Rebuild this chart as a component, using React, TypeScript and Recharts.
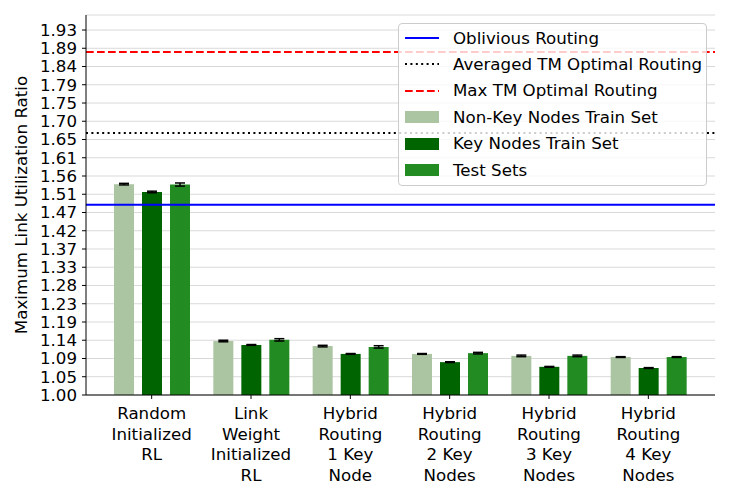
import React from 'react';
import {
  BarChart,
  Bar,
  XAxis,
  YAxis,
  CartesianGrid,
  ReferenceLine,
  ErrorBar,
} from 'recharts';

const categories = [
  'Random\nInitialized\nRL',
  'Link\nWeight\nInitialized\nRL',
  'Hybrid\nRouting\n1 Key\nNode',
  'Hybrid\nRouting\n2 Key\nNodes',
  'Hybrid\nRouting\n3 Key\nNodes',
  'Hybrid\nRouting\n4 Key\nNodes',
];

const nonKeyTrain = [1.539, 1.138, 1.125, 1.105, 1.1, 1.097];
const nonKeyTrainErr = [0.002, 0.002, 0.002, 0.001, 0.002, 0.001];
const keyTrain = [1.519, 1.128, 1.105, 1.084, 1.072, 1.069];
const keyTrainErr = [0.002, 0.001, 0.001, 0.001, 0.001, 0.001];
const testSets = [1.538, 1.141, 1.123, 1.107, 1.1, 1.097];
const testSetsErr = [0.004, 0.003, 0.003, 0.002, 0.002, 0.001];

const obliviousRouting = 1.4865;
const avgTmOptimal = 1.67;
const maxTmOptimal = 1.877;

const yTicks = [
  1.0, 1.0467, 1.0933, 1.14, 1.1866, 1.2333, 1.28, 1.3266, 1.3732, 1.4199,
  1.4665, 1.5132, 1.5598, 1.6065, 1.6531, 1.6998, 1.7464, 1.7931, 1.8397,
  1.8864, 1.933,
];
const yMax = 1.9714;

const COLORS = {
  nonKey: '#abc4a1',
  key: '#006400',
  test: '#228b22',
};

const FONT = '"DejaVu Sans", sans-serif';
const FS = 16.67;

const data = categories.map((name, i) => ({
  name,
  nonKey: nonKeyTrain[i],
  nonKeyErr: nonKeyTrainErr[i],
  key: keyTrain[i],
  keyErr: keyTrainErr[i],
  test: testSets[i],
  testErr: testSetsErr[i],
}));

function CategoryTick({ x, y, payload }: any) {
  const lines = String(payload.value).split('\n');
  return (
    <g transform={`translate(${x},${y})`}>
      <text textAnchor="middle" fontSize={FS} fill="#000" fontFamily={FONT}>
        {lines.map((l, i) => (
          <tspan key={i} x={0} dy={i === 0 ? 18 : 20.5}>
            {l}
          </tspan>
        ))}
      </text>
    </g>
  );
}

function YLabel() {
  return (
    <text
      x={21}
      y={205}
      transform="rotate(-90, 21, 205)"
      textAnchor="middle"
      dominantBaseline="central"
      fontSize={FS}
      fontFamily={FONT}
      fill="#000"
    >
      Maximum Link Utilization Ratio
    </text>
  );
}

const legendItems = [
  { label: 'Oblivious Routing', kind: 'line', color: '#0000ff', dash: '' },
  { label: 'Averaged TM Optimal Routing', kind: 'line', color: '#000', dash: '2 3.4' },
  { label: 'Max TM Optimal Routing', kind: 'line', color: '#ff0000', dash: '7.7 3.3' },
  { label: 'Non-Key Nodes Train Set', kind: 'patch', color: COLORS.nonKey, dash: '' },
  { label: 'Key Nodes Train Set', kind: 'patch', color: COLORS.key, dash: '' },
  { label: 'Test Sets', kind: 'patch', color: COLORS.test, dash: '' },
];

function ChartLegend() {
  return (
    <div
      style={{
        position: 'absolute',
        left: 398,
        top: 23,
        width: 307,
        height: 161,
        border: '1px solid #cccccc',
        borderRadius: 4,
        background: 'rgba(255,255,255,0.8)',
        fontFamily: FONT,
        fontSize: FS,
        color: '#000',
        boxSizing: 'content-box',
      }}
    >
      {legendItems.map((it, i) => (
        <div
          key={it.label}
          style={{
            position: 'absolute',
            left: 0,
            top: 2 + i * 26.4,
            height: 24,
            display: 'flex',
            alignItems: 'center',
            whiteSpace: 'nowrap',
          }}
        >
          <svg width={54} height={24} style={{ display: 'block' }}>
            {it.kind === 'line' ? (
              <line
                x1={6}
                x2={40}
                y1={12}
                y2={12}
                stroke={it.color}
                strokeWidth={2}
                strokeDasharray={it.dash || undefined}
              />
            ) : (
              <rect x={6} y={6} width={34} height={12} fill={it.color} />
            )}
          </svg>
          <span>{it.label}</span>
        </div>
      ))}
    </div>
  );
}

export default function App() {
  return (
    <div
      style={{
        position: 'absolute',
        left: 0,
        top: 0,
        width: 730,
        height: 500,
        background: '#fff',
        fontFamily: FONT,
      }}
    >
      <BarChart
        width={730}
        height={500}
        data={data}
        margin={{ top: 15, right: 15, bottom: 0, left: 0 }}
        barSize={20}
        barGap={8}
      >
        <CartesianGrid
          vertical={false}
          stroke="#d9d9d9"
          strokeWidth={1}
        />
        <XAxis
          dataKey="name"
          interval={0}
          height={105}
          padding={{ left: 16, right: 17 }}
          tick={<CategoryTick />}
          tickSize={4}
          tickMargin={2}
          axisLine={{ stroke: '#000' }}
          tickLine={{ stroke: '#000' }}
        />
        <XAxis
          xAxisId="top"
          dataKey="name"
          orientation="top"
          height={0}
          tick={false}
          tickLine={false}
          axisLine={{ stroke: '#000' }}
        />
        <YAxis
          domain={[1, yMax]}
          ticks={yTicks}
          interval={0}
          width={86}
          tickSize={4}
          tickMargin={5}
          tickFormatter={(v: number) => v.toFixed(2)}
          tick={{ fontSize: FS, fill: '#000', fontFamily: FONT }}
          axisLine={{ stroke: '#000' }}
          tickLine={{ stroke: '#000' }}
          allowDataOverflow
          label={<YLabel />}
        />
        <YAxis
          yAxisId="right"
          orientation="right"
          domain={[1, yMax]}
          width={0}
          tick={false}
          tickLine={false}
          axisLine={{ stroke: '#000' }}
        />
        <Bar dataKey="nonKey" fill={COLORS.nonKey} isAnimationActive={false}>
          <ErrorBar dataKey="nonKeyErr" width={5} stroke="#000" strokeWidth={1.5} />
        </Bar>
        <Bar dataKey="key" fill={COLORS.key} isAnimationActive={false}>
          <ErrorBar dataKey="keyErr" width={5} stroke="#000" strokeWidth={1.5} />
        </Bar>
        <Bar dataKey="test" fill={COLORS.test} isAnimationActive={false}>
          <ErrorBar dataKey="testErr" width={5} stroke="#000" strokeWidth={1.5} />
        </Bar>
        <ReferenceLine y={obliviousRouting} stroke="#0000ff" strokeWidth={2} />
        <ReferenceLine
          y={avgTmOptimal}
          stroke="#000"
          strokeWidth={2}
          strokeDasharray="2 3.4"
        />
        <ReferenceLine
          y={maxTmOptimal}
          stroke="#ff0000"
          strokeWidth={2}
          strokeDasharray="7.7 3.3"
        />
      </BarChart>
      <ChartLegend />
    </div>
  );
}
